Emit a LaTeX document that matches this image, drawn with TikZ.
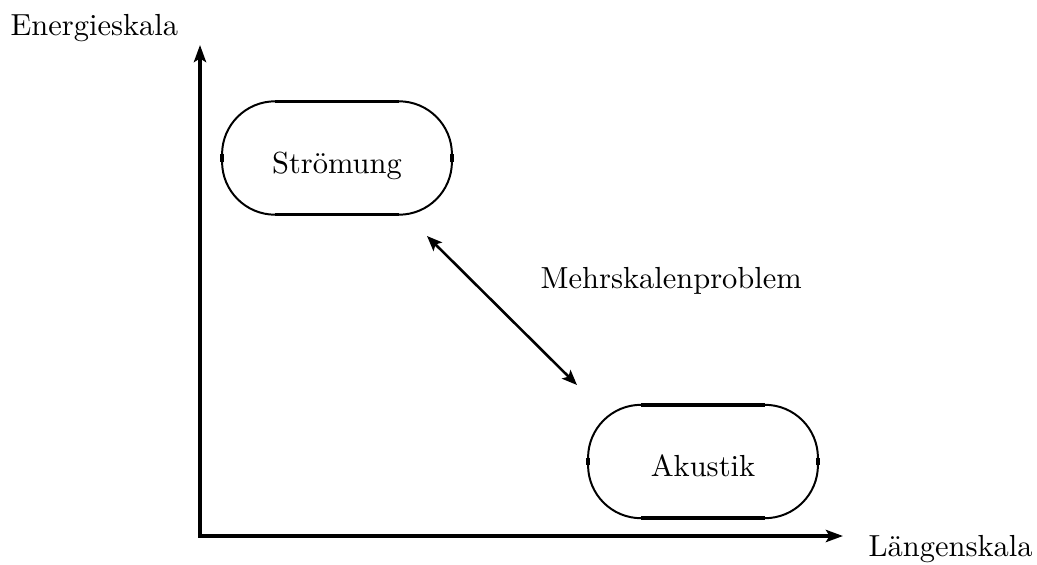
\documentclass[tikz,border=0pt]{standalone}
\usetikzlibrary{arrows.meta}
\tikzset{
  region/.style={draw, line width=0.65pt, rounded corners=17.4pt, minimum width=75.4pt, minimum height=37.2pt, inner sep=0pt, outer sep=0pt, text height=9.84pt, text depth=0pt},
  thickseg/.style={line width=1.15pt},
  axis/.style={line width=1.3pt, line join=miter, {Stealth[length=5.6pt,width=4pt,inset=1.2pt]}-{Stealth[length=5.6pt,width=4pt,inset=1.2pt]}},
  link/.style={line width=0.85pt, {Stealth[length=5pt,width=4pt,inset=1.1pt]}-{Stealth[length=5pt,width=4pt,inset=1.1pt]}},
  lbl/.style={inner sep=0pt, anchor=base west}
}
\newcommand{\segs}[1]{%
  \draw[thickseg] ([xshift=17.4pt]#1.north west) -- ([xshift=-17.4pt]#1.north east);
  \draw[thickseg] ([xshift=17.4pt]#1.south west) -- ([xshift=-17.4pt]#1.south east);
  \draw[thickseg] ([yshift=-17.4pt]#1.north west) -- ([yshift=17.4pt]#1.south west);
  \draw[thickseg] ([yshift=-17.4pt]#1.north east) -- ([yshift=17.4pt]#1.south east);
}
\begin{document}
\begin{tikzpicture}[x=0.328pt,y=-0.328pt]
\useasboundingbox (0,0) rectangle (1037,565);
\coordinate (ytip) at (200,45);
\coordinate (origin) at (200,536);
\coordinate (xtip) at (843,536);
\draw[axis] (ytip) -- (origin) -- (xtip);
\node[lbl] (ylab) at (10,35) {Energieskala};
\node[lbl] (xlab) at (868,556) {Längenskala};
\node[region] (stroemung) at (337,158) {Strömung};
\node[region] (akustik) at (703,461.5) {Akustik};
\segs{stroemung}
\segs{akustik}
\coordinate (a1) at (427,236);
\coordinate (a2) at (577,385);
\draw[link] (a1) -- (a2);
\node[lbl] (mehr) at (540,288) {Mehrskalenproblem};
\end{tikzpicture}
\end{document}
